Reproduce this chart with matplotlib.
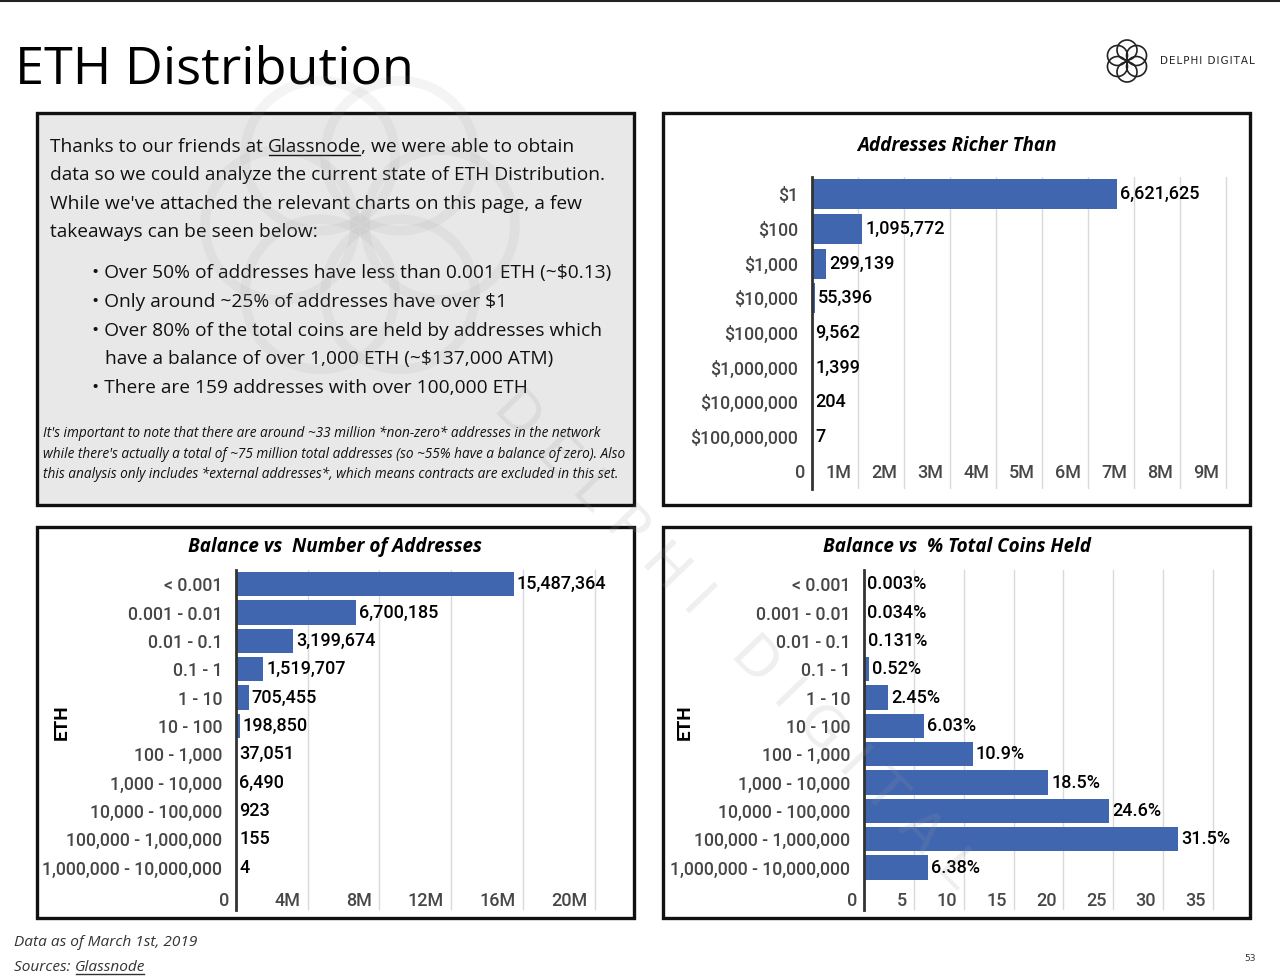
import matplotlib
matplotlib.use('Agg')
import matplotlib.pyplot as plt
from matplotlib.patches import Rectangle, Circle
from matplotlib.transforms import ScaledTranslation
import numpy as np

# ---------------- data ----------------
richer_labels = ['$1', '$100', '$1,000', '$10,000', '$100,000', '$1,000,000',
                 '$10,000,000', '$100,000,000']
richer_values = [6621625, 1095772, 299139, 55396, 9562, 1399, 204, 7]
richer_ticks = [0, 1e6, 2e6, 3e6, 4e6, 5e6, 6e6, 7e6, 8e6, 9e6]
richer_tick_labels = ['0', '1M', '2M', '3M', '4M', '5M', '6M', '7M', '8M', '9M']

balance_labels = ['< 0.001', '0.001 - 0.01', '0.01 - 0.1', '0.1 - 1', '1 - 10',
                  '10 - 100', '100 - 1,000', '1,000 - 10,000', '10,000 - 100,000',
                  '100,000 - 1,000,000', '1,000,000 - 10,000,000']
address_counts = [15487364, 6700185, 3199674, 1519707, 705455, 198850, 37051,
                  6490, 923, 155, 4]
count_ticks = [0, 4e6, 8e6, 12e6, 16e6, 20e6]
count_tick_labels = ['0', '4M', '8M', '12M', '16M', '20M']

coins_pct = [0.003, 0.034, 0.131, 0.52, 2.45, 6.03, 10.9, 18.5, 24.6, 31.5, 6.38]
coins_pct_labels = ['0.003%', '0.034%', '0.131%', '0.52%', '2.45%', '6.03%',
                    '10.9%', '18.5%', '24.6%', '31.5%', '6.38%']
pct_ticks = [0, 5, 10, 15, 20, 25, 30, 35]
pct_tick_labels = ['0', '5', '10', '15', '20', '25', '30', '35']

# ---------------- figure ----------------
W, H = 1280, 980
fig = plt.figure(figsize=(W / 100, H / 100), dpi=100)
fig.patch.set_facecolor('white')

BLUE = '#4066b0'
BODY = 'Open Sans'
NUM = 'Roboto'

bg = fig.add_axes([0, 0, 1, 1], zorder=-1)
bg.set_xlim(0, W)
bg.set_ylim(H, 0)
bg.axis('off')

# top border line
bg.plot([0, W], [1, 1], color='#222', lw=1.5)

# title
bg.text(15, 83, 'ETH Distribution', fontsize=37.6, family=BODY, color='black',
        va='baseline', ha='left')

# logo
cx, cy = 1127, 61
for k in range(6):
    a = np.pi / 2 + k * np.pi / 3
    bg.add_patch(Circle((cx + 11 * np.cos(a), cy + 11 * np.sin(a)), 10,
                        fill=False, ec='#222', lw=1.2))
bg.text(1160, 61, '\u200a'.join('DELPHI') + '\u2002' + '\u200a'.join('DIGITAL'),
        fontsize=7.5, family='DejaVu Sans', color='#222', va='center', ha='left')

# boxes
boxes = [(37, 113, 634, 505, '#e8e8e8'), (663, 113, 1250, 505, 'white'),
         (37, 527, 634, 918, 'white'), (663, 527, 1250, 918, 'white')]
for l, t, r, b, fc in boxes:
    bg.add_patch(Rectangle((l, t), r - l, b - t, fc=fc, ec='#111', lw=2.4))

renderer = fig.canvas.get_renderer()


def underlined_line(x, y, parts, **kw):
    """parts: list of (text, underline) drawn in sequence."""
    inv = bg.transData.inverted()
    for txt, ul in parts:
        t = bg.text(x, y, txt, va='baseline', ha='left', **kw)
        bb = t.get_window_extent(renderer)
        (x0, _), (x1, _) = inv.transform([[bb.x0, bb.y0], [bb.x1, bb.y1]])
        if ul:
            bg.plot([x0 + 1, x1 - 1], [y + 3, y + 3], color=kw.get('color', 'k'), lw=1)
        x = x1


TXT = '#111111'
bsize = 13.8
underlined_line(50, 152, [('Thanks to our friends at ', False), ('Glassnode', True),
                          (', we were able to obtain', False)],
                fontsize=bsize, family=BODY, color=TXT)
body = [(50, 180, 'data so we could analyze the current state of ETH Distribution.'),
        (50, 209, "While we've attached the relevant charts on this page, a few"),
        (50, 237, 'takeaways can be seen below:'),
        (92, 278, '\u2022 Over 50% of addresses have less than 0.001 ETH (~$0.13)'),
        (92, 307, '\u2022 Only around ~25% of addresses have over $1'),
        (92, 336, '\u2022 Over 80% of the total coins are held by addresses which'),
        (105, 364, 'have a balance of over 1,000 ETH (~$137,000 ATM)'),
        (92, 393, '\u2022 There are 159 addresses with over 100,000 ETH')]
for x, y, s in body:
    bg.text(x, y, s, fontsize=bsize, family=BODY, color=TXT, va='baseline', ha='left')

notes = ["It's important to note that there are around ~33 million *non-zero* addresses in the network",
         "while there's actually a total of ~75 million total addresses (so ~55% have a balance of zero). Also",
         "this analysis only includes *external addresses*, which means contracts are excluded in this set."]
for i, s in enumerate(notes):
    bg.text(43, 437 + i * 20.5, s, fontsize=9.8, family=BODY, style='italic',
            color=TXT, va='baseline', ha='left')

# footer
bg.text(14, 946, 'Data as of March 1st, 2019', fontsize=11.1, family=BODY,
        style='italic', color='#333', va='baseline', ha='left')
underlined_line(14, 971, [('Sources: ', False), ('Glassnode', True)],
                fontsize=11.1, family=BODY, style='italic', color='#333')
bg.text(1250, 958, '53', fontsize=6.5, family='DejaVu Sans', color='#333',
        va='center', ha='center')


# ---------------- charts ----------------
def bar_panel(rect, cats, values, value_texts, ticks, tick_labels, xmax, label_dy):
    l, t, r, b = rect
    ax = fig.add_axes([l / W, 1 - b / H, (r - l) / W, (b - t) / H])
    ax.set_facecolor('none')
    n = len(cats)
    y = np.arange(n)
    ax.barh(y, values, height=0.86, color=BLUE, zorder=2)
    ax.set_ylim(n + 0.5, -0.5)
    ax.set_xlim(0, xmax)
    ax.set_yticks(y)
    ax.set_yticklabels(cats, fontsize=12.75, family=NUM, fontweight=500, color='#474747')
    ax.tick_params(axis='y', length=0, pad=10)
    ax.set_xticks(ticks)
    ax.set_xticklabels(tick_labels, fontsize=13, family=NUM, fontweight=500,
                       color='#474747')
    ax.tick_params(axis='x', length=0, pad=0)
    ax.grid(axis='x', color='#d9d9d9', lw=1, zorder=0)
    ax.set_axisbelow(True)
    for s in ['top', 'right', 'bottom']:
        ax.spines[s].set_visible(False)
    ax.spines['left'].set_color('#333')
    ax.spines['left'].set_linewidth(2)
    ax.spines['left'].set_zorder(3)
    off = ScaledTranslation(-7 / 100, label_dy / 100, fig.dpi_scale_trans)
    for lab in ax.get_xticklabels():
        lab.set_horizontalalignment('right')
        lab.set_transform(lab.get_transform() + off)
    for yi, v, s in zip(y, values, value_texts):
        ax.annotate(s, (v, yi), xytext=(2.2, 0), textcoords='offset points',
                    va='center', ha='left', fontsize=13, family=NUM,
                    fontweight=500, color='black')
    return ax


bar_panel((812, 177, 1229, 489), richer_labels, richer_values,
          [f'{v:,}' for v in richer_values], richer_ticks, richer_tick_labels,
          9.06e6, 25)
bar_panel((236, 570, 600, 910), balance_labels, address_counts,
          [f'{v:,}' for v in address_counts], count_ticks, count_tick_labels,
          20.3e6, 18)
bar_panel((864, 570, 1216, 910), balance_labels, coins_pct, coins_pct_labels,
          pct_ticks, pct_tick_labels, 35.3, 18)

# chart titles
for x, y, s in [(957, 146, 'Addresses Richer Than'),
                (335, 547, 'Balance vs  Number of Addresses'),
                (957, 547, 'Balance vs  % Total Coins Held')]:
    bg.text(x, y, s, fontsize=13.6, family=BODY, fontweight='bold', style='italic',
            color='black', ha='center', va='center')
for x in (62, 685):
    bg.text(x, 722, 'ETH', fontsize=13.5, family=NUM, fontweight='bold',
            color='black', rotation=90, ha='center', va='center')

# ---------------- watermark ----------------
ov = fig.add_axes([0, 0, 1, 1], zorder=10)
ov.set_xlim(0, W)
ov.set_ylim(H, 0)
ov.axis('off')
wx, wy = 360, 225
for k in range(6):
    a = k * np.pi / 3
    ov.add_patch(Circle((wx + 80 * np.cos(a), wy + 80 * np.sin(a)), 75,
                        fill=False, ec='#999', lw=7, alpha=0.10))
ov.text(735, 640, 'D E L P H I   D I G I T A L', fontsize=40, family='DejaVu Sans',
        fontweight='normal', color='#999', alpha=0.16, rotation=-46,
        ha='center', va='center', rotation_mode='anchor')

fig.savefig('out.png', dpi=100, facecolor='white')
